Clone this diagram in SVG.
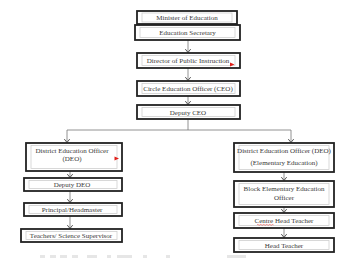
<svg xmlns="http://www.w3.org/2000/svg" width="350" height="259" viewBox="0 0 350 259">
<style>
.o{fill:#fff;stroke:#222;stroke-width:1.8}
.i{fill:none;stroke:#cfcfcf;stroke-width:0.8}
.t{font-family:"Liberation Serif",serif;font-size:7px;fill:#3a3a3a;text-anchor:middle}
.c{fill:none;stroke:#777;stroke-width:0.8}
.r{fill:#e0201a}
</style>
<defs>
<marker id="a" markerUnits="userSpaceOnUse" markerWidth="10" markerHeight="10" refX="5" refY="5" orient="0">
<path d="M2.3,1.6 L5,5 L7.7,1.6" fill="none" stroke="#444" stroke-width="0.9"/>
</marker>
</defs>
<rect width="350" height="259" fill="#fff"/>
<g id="connectors">
<path class="c" d="M188,40 V52.5" marker-end="url(#a)"/>
<path class="c" d="M188,68 V80.5" marker-end="url(#a)"/>
<path class="c" d="M188,96 V104.5" marker-end="url(#a)"/>
<path class="c" d="M188,119 V130 M67,130 H291"/>
<path class="c" d="M67,130 V142.5" marker-end="url(#a)"/>
<path class="c" d="M291,130 V142.5" marker-end="url(#a)"/>
<path class="c" d="M70,171 V177.5" marker-end="url(#a)"/>
<path class="c" d="M70,191 V202.5" marker-end="url(#a)"/>
<path class="c" d="M70,216 V228.5" marker-end="url(#a)"/>
<path class="c" d="M284,172 V180.5" marker-end="url(#a)"/>
<path class="c" d="M284,207 V212.5" marker-end="url(#a)"/>
<path class="c" d="M284,228 V237.5" marker-end="url(#a)"/>
</g>
<g id="minister">
<rect class="o" x="137" y="11" width="100" height="13"/>
<rect class="i" x="142" y="13" width="90" height="9"/>
<text class="t" x="187" y="20.2">Minister of Education</text>
</g>
<g id="secretary">
<rect class="o" x="135" y="25" width="105" height="15"/>
<rect class="i" x="140" y="27.5" width="95" height="10"/>
<text class="t" x="187.5" y="35">Education Secretary</text>
</g>
<g id="director">
<rect class="o" x="137" y="53" width="103" height="15"/>
<rect class="i" x="142" y="55.5" width="93" height="10"/>
<text class="t" x="188" y="63">Director of Public Instruction</text>
<path class="r" d="M230,62.5 L234.5,64.5 L230,66.5 Z"/>
</g>
<g id="ceo">
<rect class="o" x="137" y="81" width="103" height="15"/>
<rect class="i" x="142" y="83.5" width="93" height="10"/>
<text class="t" x="188" y="91">Circle Education Officer (CEO)</text>
</g>
<g id="deputy-ceo">
<rect class="o" x="137" y="105" width="103" height="14"/>
<rect class="i" x="142" y="107.5" width="93" height="9"/>
<text class="t" x="188" y="114.5">Deputy CEO</text>
</g>
<g id="deo-left">
<rect class="o" x="26" y="143" width="96" height="28"/>
<rect class="i" x="31" y="145.5" width="86" height="23"/>
<text class="t" x="72" y="152.5">District Education Officer</text>
<text class="t" x="72" y="161">(DEO)</text>
<path class="r" d="M114.5,156.5 L119,158.5 L114.5,160.5 Z"/>
</g>
<g id="deputy-deo">
<rect class="o" x="24" y="178" width="98" height="13"/>
<rect class="i" x="29" y="180.5" width="88" height="8"/>
<text class="t" x="72" y="187">Deputy DEO</text>
</g>
<g id="principal">
<rect class="o" x="24" y="203" width="98" height="13"/>
<rect class="i" x="29" y="205.5" width="88" height="8"/>
<text class="t" x="72" y="212">Principal/Headmaster</text>
</g>
<g id="teachers">
<rect class="o" x="21" y="229" width="101" height="13"/>
<rect class="i" x="26" y="231.5" width="91" height="8"/>
<text class="t" x="71" y="238">Teachers/ Science Supervisor</text>
</g>
<g id="deo-right">
<rect class="o" x="234" y="143" width="100" height="29"/>
<rect class="i" x="239" y="145.5" width="90" height="24"/>
<text class="t" x="284" y="153">District Education Officer (DEO)</text>
<text class="t" x="284" y="164.5">(Elementary Education)</text>
</g>
<g id="block">
<rect class="o" x="234" y="181" width="100" height="26"/>
<rect class="i" x="239" y="183.5" width="90" height="21"/>
<text class="t" x="284" y="191">Block Elementary Education</text>
<text class="t" x="284" y="200">Officer</text>
</g>
<g id="centre">
<rect class="o" x="234" y="213" width="100" height="15"/>
<rect class="i" x="239" y="215.5" width="90" height="10"/>
<text class="t" x="284" y="223">Centre Head Teacher</text>
<path d="M257,224.8 q0.75,-0.8 1.5,0 t1.5,0 t1.5,0 t1.5,0 t1.5,0 t1.5,0 t1.5,0 t1.5,0 t1.5,0 t1.5,0 t1.5,0" fill="none" stroke="#e0201a" stroke-width="0.5"/>
</g>
<g id="head-teacher">
<rect class="o" x="234" y="238" width="100" height="14"/>
<rect class="i" x="239" y="240.5" width="90" height="9"/>
<text class="t" x="284" y="247.5">Head Teacher</text>
</g>
<g fill="#e6e6e6">
<rect x="40" y="255" width="5" height="3"/>
<rect x="50" y="255" width="6" height="3"/>
<rect x="60" y="255" width="7" height="3"/>
<rect x="72" y="255" width="6" height="3"/>
<rect x="87" y="255" width="10" height="3"/>
<rect x="107" y="255" width="4" height="3"/>
<rect x="117" y="255" width="15" height="3"/>
<rect x="143" y="255" width="4" height="3"/>
<rect x="166" y="255" width="4" height="3"/>
<rect x="227" y="255" width="19" height="3"/>
</g>
</svg>
